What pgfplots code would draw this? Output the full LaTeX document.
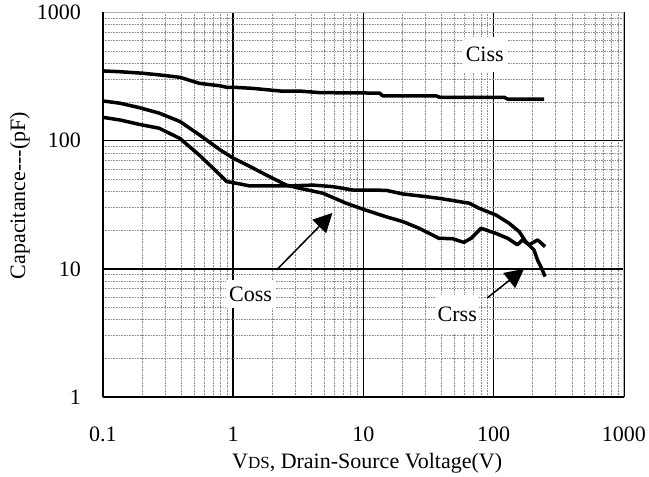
\documentclass[border=0pt]{standalone}
\usepackage{fontspec}
\setmainfont{Liberation Serif}
\usepackage{pgfplots}
\pgfplotsset{compat=1.18}
\usetikzlibrary{arrows.meta}
\pgfplotsset{cap/.style={black, line width=3.5pt, line join=round, mark=none}}

\begin{document}
\fontsize{22}{26}\selectfont
\begin{tikzpicture}
\useasboundingbox (-103pt,-80pt) rectangle (546pt,397pt);
\begin{axis}[
  at={(0,0)}, anchor=south west,
  scale only axis, width=521pt, height=384.5pt,
  xmode=log, ymode=log,
  xmin=0.1, xmax=1000, ymin=1, ymax=1000,
  xtick={0.1,1,10,100,1000}, xticklabels={0.1,1,10,100,1000},
  ytick={1,10,100,1000}, yticklabels={1,10,100,1000},
  grid=both,
  major grid style={black, line width=1.5pt},
  minor grid style={gray!90, line width=1pt, dash pattern=on 1pt off 0.6pt},
  tick style={draw=none},
  axis line style={draw=none},
  xticklabel style={yshift=-22pt},
  yticklabel style={xshift=-14.5pt},
  xlabel={V{\fontsize{17}{17}\selectfont DS}, Drain-Source Voltage(V)},
  ylabel={Capacitance-{}-{}-(pF)},
  xlabel style={at={(axis description cs:0.507,0)}, anchor=base, yshift=-71pt},
  ylabel style={at={(axis description cs:-0.1497,0.524)}, anchor=base},
]
% Ciss
\addplot[cap] coordinates {(0.1,350) (0.135,345) (0.2,336) (0.27,326) (0.39,312) (0.55,280) (0.79,268) (0.89,261) (1.0,261) (1.4,256) (2.3,244) (3.2,244) (4.6,237) (13.3,235) (14,224) (36,224) (38.5,218) (120,218) (128,211) (244,211)};
% curve starting near 200 pF
\addplot[cap] coordinates {(0.1,204) (0.135,196) (0.19,181) (0.27,164) (0.39,141) (0.55,111) (0.79,85) (1.0,73) (1.34,63) (1.79,54) (2.56,45) (3.24,42.5) (4.88,38.9) (7.36,32.5) (9.9,29.2) (14.9,25.5) (20,23.4) (26.8,20.7) (38,17.3) (48,17.2) (59,16.1) (67,17.3) (80,20.7) (104,18.9) (128,17.3) (152,15.4) (166,16.8) (187,15.4) (217,16.8) (248,14.9)};
% curve starting near 150 pF
\addplot[cap] coordinates {(0.1,152) (0.135,145) (0.19,134) (0.27,125) (0.39,104) (0.55,77) (0.7,61) (0.89,48) (1.12,46) (1.34,44.3) (2.56,44.3) (4.1,45) (5.8,43.8) (8.3,41.2) (14.9,41) (20,38.4) (30,36.6) (38,35.5) (65,32.5) (77,29.7) (104,26.3) (131,22.7) (157,19.5) (176,16.3) (204,14) (217,11.7) (230,10.4) (248,8.7)};

% frame
\draw[gray!60, line width=2pt] (rel axis cs:0,1) -- (rel axis cs:1,1) -- (rel axis cs:1,0);
\draw[black, line width=2pt] (rel axis cs:0,1) -- (rel axis cs:0,0) -- (rel axis cs:1,0);

% annotations
\draw[line width=1.5pt, -{Triangle[length=19pt,width=19pt]}] (axis cs:2.15,9.8) -- (axis cs:5.78,27.3);
\draw[line width=1.5pt, -{Triangle[length=19pt,width=19pt]}] (axis cs:89,5.93) -- (axis cs:171,10);
\node[fill=white, inner sep=0pt, minimum width=46pt, minimum height=35pt] at (axis cs:85.3,470) {Ciss};
\node[fill=white, inner sep=0pt, minimum width=50pt, minimum height=28pt] at (axis cs:1.36,6.37) {Coss};
\node[fill=white, inner sep=0pt, minimum width=44pt, minimum height=38pt] at (axis cs:52.5,4.45) {Crss};
\end{axis}
\end{tikzpicture}
\end{document}
